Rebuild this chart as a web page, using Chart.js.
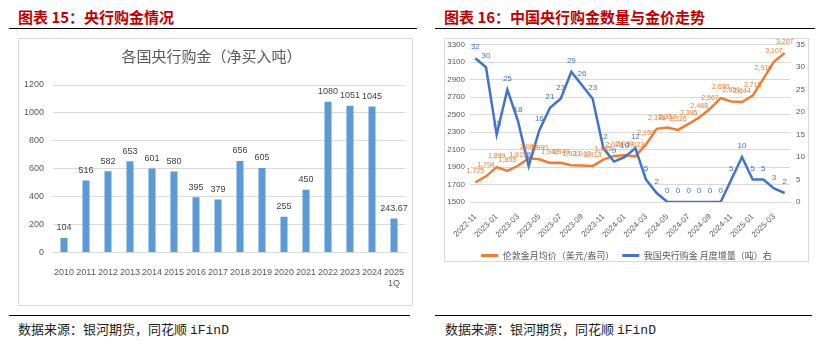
<!DOCTYPE html>
<html>
<head>
<meta charset="utf-8">
<script src="https://cdn.jsdelivr.net/npm/chart.js@4.4.1/dist/chart.umd.min.js"></script>
<style>
  body { margin: 0; background: #fff; width: 820px; height: 344px; position: relative; overflow: hidden; }
  .ttl  { position: absolute; top: 6px; font: bold 15px "Noto Sans CJK SC", sans-serif; color: #C00000; white-space: nowrap; }
  .rule { position: absolute; height: 0; border-top: 1.5px solid #000; }
  .box  { position: absolute; border: 1px solid #D9D9D9; box-sizing: border-box; }
  .src  { position: absolute; top: 319px; font: 13px "Noto Sans CJK SC", sans-serif; color: #222; white-space: nowrap; }
  .src span { font-family: "Liberation Mono", monospace; }
  canvas { position: absolute; }
</style>
</head>
<body>

<div class="ttl" style="left:18px">图表 15：央行购金情况</div>
<div class="ttl" style="left:444px">图表 16：中国央行购金数量与金价走势</div>
<div class="rule" style="left:9px;top:28px;width:408px"></div>
<div class="rule" style="left:435px;top:28px;width:380px"></div>

<div class="box" style="left:18px;top:38px;width:395px;height:268px"></div>
<div class="box" style="left:444px;top:38px;width:365px;height:224px"></div>

<div style="position:absolute;left:18px;top:38px;width:395px;height:268px"><canvas id="cbChart"></canvas></div>
<div style="position:absolute;left:444px;top:34px;width:365px;height:236px"><canvas id="cnChart"></canvas></div>

<div class="rule" style="left:9px;top:315px;width:401px"></div>
<div class="rule" style="left:435px;top:315px;width:377px"></div>
<div class="src" style="left:18px">数据来源：银河期货，同花顺 <span>iFinD</span></div>
<div class="src" style="left:445px">数据来源：银河期货，同花顺 <span>iFinD</span></div>

<script>
/* ── Data ───────────────────────────────────── */
const years   = ['2010','2011','2012','2013','2014','2015','2016','2017','2018','2019','2020','2021','2022','2023','2024',['2025','1Q']];
const cbBuy   = [104, 516, 582, 653, 601, 580, 395, 379, 656, 605, 255, 450, 1080, 1051, 1045, 243.67];

const months  = ['2022-11','2022-12','2023-01','2023-02','2023-03','2023-04','2023-05','2023-06','2023-07','2023-08',
                 '2023-09','2023-10','2023-11','2023-12','2024-01','2024-02','2024-03','2024-04','2024-05','2024-06',
                 '2024-07','2024-08','2024-09','2024-10','2024-11','2024-12','2025-01','2025-02','2025-03','2025-04'];
const goldAvg = [1725, 1794, 1899, 1855, 1915, 2000, 1990, 1948, 1949, 1920,
                 1918, 1913, 1985, 2028, 2034, 2023, 2159, 2338, 2352, 2326,
                 2395, 2468, 2567, 2690, 2651, 2644, 2718, 2910, 3107, 3207];
const pbocAdd = [32, 30, 15, 25, 18, 8, 16, 21, 23, 29,
                 26, 23, 12, 9, 10, 12, 5, 2, 0, 0,
                 0, 0, 0, 0, 5, 10, 5, 5, 3, 2];

/* ── Shared ─────────────────────────────────── */
const GRID  = '#D9D9D9';
const MUTED = '#595959';
Chart.defaults.font.family = '"Liberation Sans", "Noto Sans CJK SC", sans-serif';
Chart.defaults.color = MUTED;
Chart.defaults.animation = false;

const plain = v => String(v);   // no thousands separator on axes

// draws each value above its point / bar
const valueLabels = {
  id: 'valueLabels',
  afterDatasetsDraw(chart) {
    const ctx = chart.ctx;
    chart.data.datasets.forEach((ds, i) => {
      const lo = ds.valueLabel;
      if (!lo) return;
      const meta = chart.getDatasetMeta(i);
      ctx.save();
      ctx.font = lo.font;
      ctx.fillStyle = lo.color;
      ctx.textAlign = 'center';
      ctx.textBaseline = 'middle';
      meta.data.forEach((el, j) => ctx.fillText(lo.fmt(ds.data[j]), el.x, el.y - lo.dy));
      ctx.restore();
    });
  }
};

/* ── Chart 15: central bank purchases ───────── */
new Chart(document.getElementById('cbChart'), {
  type: 'bar',
  data: {
    labels: years,
    datasets: [{
      data: cbBuy,
      backgroundColor: '#5B9BD5',
      barPercentage: 0.32,
      categoryPercentage: 1,
      valueLabel: { font: '9px "Liberation Sans"', color: '#404040', dy: 10, fmt: plain }
    }]
  },
  options: {
    responsive: true,
    maintainAspectRatio: false,
    layout: { padding: { left: 0, right: 8, top: 0, bottom: 10 } },
    plugins: {
      legend: { display: false },
      tooltip: { enabled: false },
      title: {
        display: true,
        text: '各国央行购金（净买入吨）',
        color: MUTED,
        font: { family: '"Noto Sans CJK SC"', size: 15, weight: 'normal' },
        padding: { top: 9, bottom: 20 }
      }
    },
    scales: {
      x: {
        grid: { display: false },
        border: { color: GRID },
        ticks: { font: { size: 9 }, padding: 7, maxRotation: 0, autoSkip: false }
      },
      y: {
        min: 0, max: 1200,
        ticks: { stepSize: 200, font: { size: 9 }, padding: 9, callback: plain },
        grid: { color: GRID, drawTicks: false },
        border: { display: false },
        afterFit: s => { s.width = 35; }
      }
    }
  },
  plugins: [valueLabels]
});

/* ── Chart 16: PBoC purchases vs gold price ─── */
new Chart(document.getElementById('cnChart'), {
  type: 'line',
  data: {
    labels: months,
    datasets: [
      {
        label: '伦敦金月均价（美元/盎司）',
        data: goldAvg,
        yAxisID: 'y',
        borderColor: '#ED7D31', backgroundColor: '#ED7D31',
        borderWidth: 2.5, pointRadius: 0, tension: 0, order: 1,
        valueLabel: { font: '7px "Liberation Sans"', color: '#ED7D31', dy: 11, fmt: v => v.toLocaleString('en-US') }
      },
      {
        label: '我国央行购金 月度增量（吨）右',
        data: pbocAdd,
        yAxisID: 'y1',
        borderColor: '#4472C4', backgroundColor: '#4472C4',
        borderWidth: 2.5, pointRadius: 0, tension: 0, order: 0,
        valueLabel: { font: '8px "Liberation Sans"', color: '#4472C4', dy: 11, fmt: plain }
      }
    ]
  },
  options: {
    responsive: true,
    maintainAspectRatio: false,
    layout: { padding: { left: 0, right: 0, top: 8, bottom: 0 } },
    plugins: {
      tooltip: { enabled: false },
      legend: {
        position: 'bottom',
        labels: {
          boxWidth: 17, boxHeight: 3, padding: 8,
          color: MUTED,
          font: { family: '"Noto Sans CJK SC"', size: 9 },
          sort: (a, b) => a.datasetIndex - b.datasetIndex,
          generateLabels: chart => Chart.defaults.plugins.legend.labels.generateLabels(chart).map(l => ({ ...l, lineWidth: 0 }))
        }
      }
    },
    scales: {
      x: {
        offset: true,
        grid: { display: false },
        border: { color: GRID },
        ticks: {
          autoSkip: false, maxRotation: 45, minRotation: 45, padding: 2,
          font: { size: 8 },
          callback: (v, i) => (i % 2 === 0 ? months[i] : '')
        },
        afterFit: s => { s.height = 41; }
      },
      y: {
        position: 'left',
        min: 1500, max: 3300,
        ticks: { stepSize: 200, font: { size: 8 }, padding: 5, callback: plain },
        grid: { color: GRID, drawTicks: false },
        border: { display: false },
        afterFit: s => { s.width = 26; }
      },
      y1: {
        position: 'right',
        min: 0, max: 35,
        ticks: { stepSize: 5, font: { size: 8 }, padding: 6, callback: plain },
        grid: { display: false, drawTicks: false },
        border: { display: false },
        afterFit: s => { s.width = 19; }
      }
    }
  },
  plugins: [valueLabels]
});
</script>
</body>
</html>
